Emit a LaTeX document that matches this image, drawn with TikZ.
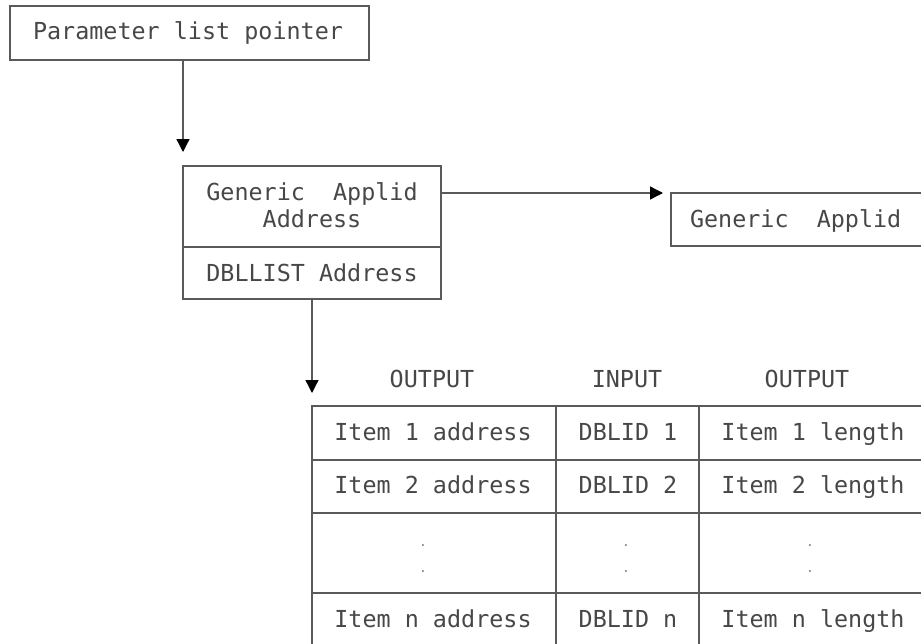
\documentclass[tikz,border=0pt]{standalone}
\usepackage{fontspec}
\newfontfamily\diagmono{DejaVu Sans Mono}
\usetikzlibrary{arrows.meta,calc}
\definecolor{linegray}{HTML}{5A5A5A}
\definecolor{txtgray}{HTML}{474747}
\begin{document}
\begin{tikzpicture}[x=1pt,y=-1pt,
  box/.style={draw=linegray,line width=1.3pt,inner sep=0pt,outer sep=0pt},
  lbl/.style={font=\diagmono\fontsize{23.4}{28}\selectfont,text=txtgray,inner sep=0pt,outer sep=0pt,anchor=base},
  dotlbl/.style={font=\diagmono\fontsize{13}{16}\selectfont,text=gray,inner sep=0pt,outer sep=0pt,anchor=center},
  conn/.style={draw=linegray,line width=1.3pt},
  arr/.style={conn,-{Triangle[length=13pt,width=13pt,color=black]}}]
\useasboundingbox (0,0) rectangle (921,643);
% boxes
\node[box,minimum width=359pt,minimum height=54pt] (plp) at (189.5,33) {};
\node[box,minimum width=258pt,minimum height=81pt] (ga) at (312,206.5) {};
\node[box,minimum width=258pt,minimum height=52pt] (dl) at (312,273) {};
\node[box,minimum width=300pt,minimum height=53pt] (gr) at (821,219.5) {};
% table cells
\foreach \r/\yc/\h in {1/433/54,2/486.5/53,3/553/80,4/628/70}
  \foreach \c/\xc/\w in {1/434/244,2/627.5/143,3/829/260}
    \node[box,minimum width=\w pt,minimum height=\h pt] (c\r\c) at (\xc,\yc) {};
% texts
\node[lbl] (tplp) at (188,39) {Parameter list pointer};
\node[lbl] (tga1) at (312,200) {Generic\ \ Applid};
\node[lbl] (tga2) at (312,227) {Address};
\node[lbl] (tdl) at (312,281) {DBLLIST Address};
\node[lbl,anchor=base west] (tgr) at (690,227) {Generic\ \ Applid};
\node[lbl] (h1) at (432,387) {OUTPUT};
\node[lbl] (h2) at (627,387) {INPUT};
\node[lbl] (h3) at (807,387) {OUTPUT};
\node[lbl] (r11) at (433,440) {Item 1 address};
\node[lbl] (r12) at (628,440) {DBLID 1};
\node[lbl] (r13) at (813,440) {Item 1 length};
\node[lbl] (r21) at (433,493) {Item 2 address};
\node[lbl] (r22) at (628,493) {DBLID 2};
\node[lbl] (r23) at (813,493) {Item 2 length};
\node[lbl] (r41) at (433,627) {Item n address};
\node[lbl] (r42) at (628,627) {DBLID n};
\node[lbl] (r43) at (813,627) {Item n length};
\foreach \n/\xd in {1/423,2/626,3/810}{
  \node[dotlbl] (da\n) at (\xd,546) {.};
  \node[dotlbl] (db\n) at (\xd,572) {.};
}
% connectors
\coordinate (tip1) at (183,152);
\coordinate (tip2) at (312,393);
\draw[arr] (tip1 |- plp.south) -- (tip1);
\draw[arr] (ga.east |- gr.north) -- ($(gr.north west)+(-8,0)$);
\draw[arr] (dl.south) -- (tip2);
\end{tikzpicture}
\end{document}
